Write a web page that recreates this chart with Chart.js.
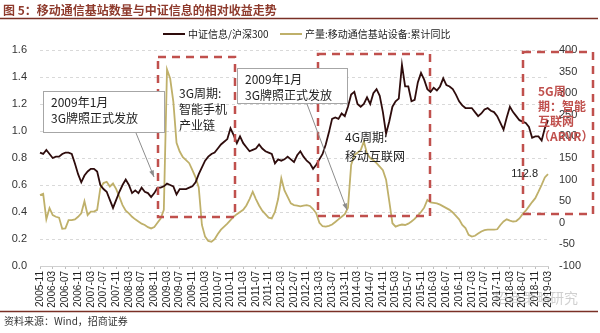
<!DOCTYPE html>
<html>
<head>
<meta charset="utf-8">
<script src="https://cdn.jsdelivr.net/npm/chart.js@4.4.1/dist/chart.umd.min.js"></script>
<style>
  html, body { margin: 0; padding: 0; background: #fff; }
  #wrap { width: 600px; height: 333px; }
</style>
</head>
<body>
<div id="wrap"><canvas id="chart" width="600" height="333"></canvas></div>
<script>
// 中证信息/沪深300 相对走势（左轴），月度
const relRatio = [
  0.84, 0.83, 0.86, 0.83, 0.80, 0.81, 0.81, 0.83, 0.84, 0.84,
  0.83, 0.76, 0.68, 0.62, 0.67, 0.70, 0.72, 0.72, 0.70, 0.60,
  0.57, 0.55, 0.49, 0.43, 0.49, 0.55, 0.60, 0.64, 0.60, 0.54,
  0.56, 0.54, 0.58, 0.55, 0.54, 0.51, 0.54, 0.58, 0.58, 0.59,
  0.61, 0.60, 0.59, 0.53, 0.57, 0.57, 0.57, 0.58, 0.59, 0.62,
  0.68, 0.73, 0.78, 0.81, 0.83, 0.84, 0.87, 0.90, 0.92, 0.94,
  1.02, 0.97, 0.91, 0.96, 0.91, 0.88, 0.85, 0.86, 0.87, 0.90,
  0.87, 0.85, 0.84, 0.83, 0.76, 0.79, 0.78, 0.79, 0.81, 0.79,
  0.77, 0.82, 0.85, 0.81, 0.78, 0.76, 0.72, 0.75, 0.79, 0.83,
  0.90, 0.99, 1.09, 1.10, 1.09, 1.13, 1.11, 1.18, 1.27, 1.29,
  1.20, 1.18, 1.20, 1.25, 1.20, 1.28, 1.31, 1.26, 1.14, 0.98,
  1.07, 1.18, 1.22, 1.24, 1.49, 1.33, 1.33, 1.22, 1.23, 1.36,
  1.43, 1.38, 1.31, 1.29, 1.32, 1.30, 1.33, 1.39, 1.34, 1.33,
  1.31, 1.27, 1.22, 1.19, 1.17, 1.17, 1.17, 1.14, 1.11, 1.13,
  1.16, 1.17, 1.15, 1.14, 1.11, 1.06, 1.01, 1.10, 1.18, 1.14,
  1.11, 1.08, 1.07, 1.06, 1.03, 0.95, 0.96, 0.96, 0.93, 1.02,
  1.08
];

// 产量:移动通信基站设备:累计同比（右轴，%）
const stationOutput = [
  64, 67, 8, 34, 18, 14, 12, -14, -13, 6,
  6, 8, 14, 22, 50, 18, 26, 26, 30, 80,
  92, 95, 84, 91, 78, 60, 41, 28, 22, 14,
  8, 3, -2, -5, -10, -13, -10, 0, 10, 30,
  355, 334, 280, 185, 165, 152, 145, 138, 122, 105,
  82, -5, -32, -42, -44, -38, -26, -16, -9, -2,
  6, 14, 20, 25, 30, 40, 55, 72, 55, 40,
  28, 20, 12, 10, 25, 55, 103, 75, 60, 45,
  41, 40, 38, 40, 41, 39, 32, 22, 0, -8,
  -9, -7, -4, 2, 8, 14, 20, 35, 134, 157,
  162, 168, 188, 160, 150, 145, 138, 130, 122, 100,
  50, -1, -9, -6, -4, -5, -2, 3, 9, 17,
  25, 35, 53, 47, 46, 45, 42, 38, 34, 30,
  24, 16, 8, -5, -12, -28, -32, -30, -25, -20,
  -17, -16, -16, -16, -15, -5, 3, 8, 5, 3,
  4, 10, 20, 28, 38, 48, 57, 72, 88, 105,
  112.8
];

// 月份 2005-11 起
const months = [];
for (let k = 0; k < relRatio.length; k++) {
  const t = 2005 * 12 + 10 + k;
  months.push(Math.floor(t / 12) + '-' + String(t % 12 + 1).padStart(2, '0'));
}

const seriesNames = ['中证信息/沪深300', '产量:移动通信基站设备:累计同比'];
const seriesColors = ['#2e0c0c', '#bfb06a'];

const CJK = '"Noto Sans CJK SC", sans-serif';
const LAT = '"Liberation Sans", Arial, sans-serif';
const RED = '#c0504d';

function dashedRect(c, x1, y1, x2, y2) {
  c.save();
  c.strokeStyle = RED;
  c.lineWidth = 2.5;
  c.setLineDash([8, 6]);
  c.strokeRect(x1, y1, x2 - x1, y2 - y1);
  c.restore();
}

function callout(c, x, y, w, h, lines) {
  c.save();
  c.fillStyle = '#fff';
  c.fillRect(x, y, w, h);
  c.strokeStyle = '#a6a6a6';
  c.lineWidth = 1;
  c.strokeRect(x + 0.5, y + 0.5, w, h);
  c.fillStyle = '#222';
  c.font = '12px ' + CJK;
  c.textBaseline = 'middle';
  lines.forEach((t, i) => c.fillText(t, x + 8, y + 11 + i * 16));
  c.restore();
}

function arrow(c, x1, y1, x2, y2) {
  const a = Math.atan2(y2 - y1, x2 - x1);
  c.save();
  c.strokeStyle = '#8c8c8c';
  c.fillStyle = '#8c8c8c';
  c.lineWidth = 1;
  c.beginPath();
  c.moveTo(x1, y1);
  c.lineTo(x2, y2);
  c.stroke();
  c.beginPath();
  c.moveTo(x2, y2);
  c.lineTo(x2 - 7 * Math.cos(a - 0.35), y2 - 7 * Math.sin(a - 0.35));
  c.lineTo(x2 - 7 * Math.cos(a + 0.35), y2 - 7 * Math.sin(a + 0.35));
  c.closePath();
  c.fill();
  c.restore();
}

function textLines(c, lines, x, y0, step, font, color) {
  c.save();
  c.font = font;
  c.fillStyle = color;
  c.textBaseline = 'middle';
  lines.forEach((t, i) => c.fillText(t, x, y0 + i * step));
  c.restore();
}

const decorations = {
  id: 'decorations',
  beforeDraw(chart) {
    const c = chart.ctx;
    c.save();
    // title + rules
    c.fillStyle = '#8e3a2c';
    c.font = 'bold 12px ' + CJK;
    c.textBaseline = 'middle';
    c.fillText('图 5：移动通信基站数量与中证信息的相对收益走势', 3, 10);
    c.strokeStyle = '#7a3026';
    c.lineWidth = 1.5;
    c.beginPath();
    c.moveTo(0, 18.5); c.lineTo(598, 18.5);
    c.moveTo(0, 311.5); c.lineTo(598, 311.5);
    c.stroke();
    c.fillStyle = '#333';
    c.font = '10px ' + CJK;
    c.fillText('资料来源：Wind，招商证券', 4, 321);

    // legend
    const lx = [163, 280];
    c.font = '10px ' + CJK;
    seriesNames.forEach((name, i) => {
      c.strokeStyle = seriesColors[i];
      c.lineWidth = 2;
      c.beginPath();
      c.moveTo(lx[i], 34); c.lineTo(lx[i] + 22, 34);
      c.stroke();
      c.fillStyle = '#222';
      c.fillText(name, lx[i] + 25, 34);
    });

    // watermark
    c.fillStyle = 'rgba(170,170,170,0.55)';
    c.font = '14px ' + CJK;
    c.fillText('招商策略研究', 494, 298);
    c.restore();
  },
  afterDatasetsDraw(chart) {
    const c = chart.ctx;

    dashedRect(c, 158, 57, 235, 217);
    dashedRect(c, 318, 54, 430, 216);
    dashedRect(c, 523, 52, 593, 214);

    callout(c, 43, 91, 121, 41, ['2009年1月', '3G牌照正式发放']);
    arrow(c, 136, 133, 154, 177);
    callout(c, 237, 68, 110, 35, ['2009年1月', '3G牌照正式发放']);
    arrow(c, 307, 104, 347, 210);

    textLines(c, ['3G周期:', '智能手机', '产业链'], 179, 93, 16, '12px ' + CJK, '#222');
    textLines(c, ['4G周期:', '移动互联网'], 345, 137, 19, '12px ' + CJK, '#222');
    textLines(c, ['5G周', '期：智能', '互联网', '（ARVR）'], 538, 91, 15, 'bold 12px ' + CJK, RED);

    // end value label of the output series
    const meta = chart.getDatasetMeta(1);
    const last = meta.data[meta.data.length - 1];
    c.save();
    c.font = '11px ' + LAT;
    c.fillStyle = '#222';
    c.textAlign = 'right';
    c.textBaseline = 'middle';
    c.fillText(String(stationOutput[stationOutput.length - 1]), last.x - 10, last.y);
    c.restore();
  }
};

new Chart(document.getElementById('chart'), {
  type: 'line',
  data: {
    labels: months,
    datasets: [{
      label: seriesNames[0],
      data: relRatio,
      borderColor: seriesColors[0],
      borderWidth: 1.8,
      pointRadius: 0,
      tension: 0,
      yAxisID: 'y',
    }, {
      label: seriesNames[1],
      data: stationOutput,
      borderColor: seriesColors[1],
      borderWidth: 1.8,
      pointRadius: 0,
      tension: 0,
      yAxisID: 'y1',
    }],
  },
  options: {
    responsive: false,
    animation: false,
    devicePixelRatio: 1,
    layout: { padding: { top: 50, bottom: 22, left: 0, right: 0 } },
    plugins: {
      legend: { display: false },
      tooltip: { enabled: false },
    },
    scales: {
      x: {
        offset: false,
        afterFit: s => { s.height = 45; },
        grid: { drawOnChartArea: false, drawTicks: true, tickLength: 3, color: '#bfbfbf' },
        border: { color: '#d0d0d0' },
        ticks: {
          autoSkip: false,
          minRotation: 90,
          maxRotation: 90,
          padding: 2,
          color: '#222',
          font: { family: LAT, size: 10 },
          callback: (v, i) => (i % 4 === 0 ? months[i] : null),
        },
      },
      y: {
        position: 'left',
        min: 0,
        max: 1.6,
        afterFit: s => { s.width = 40; },
        grid: { color: '#d9d9d9', drawTicks: false },
        border: { display: false, dash: [3, 3] },
        ticks: {
          stepSize: 0.2,
          padding: 13,
          color: '#333',
          font: { family: LAT, size: 11 },
          callback: v => v.toFixed(1),
        },
      },
      y1: {
        position: 'right',
        min: -100,
        max: 400,
        afterFit: s => { s.width = 52; },
        grid: { drawOnChartArea: false, drawTicks: false },
        border: { display: false },
        ticks: {
          stepSize: 50,
          padding: 11,
          color: '#333',
          font: { family: LAT, size: 11 },
        },
      },
    },
  },
  plugins: [decorations],
});
</script>
</body>
</html>
